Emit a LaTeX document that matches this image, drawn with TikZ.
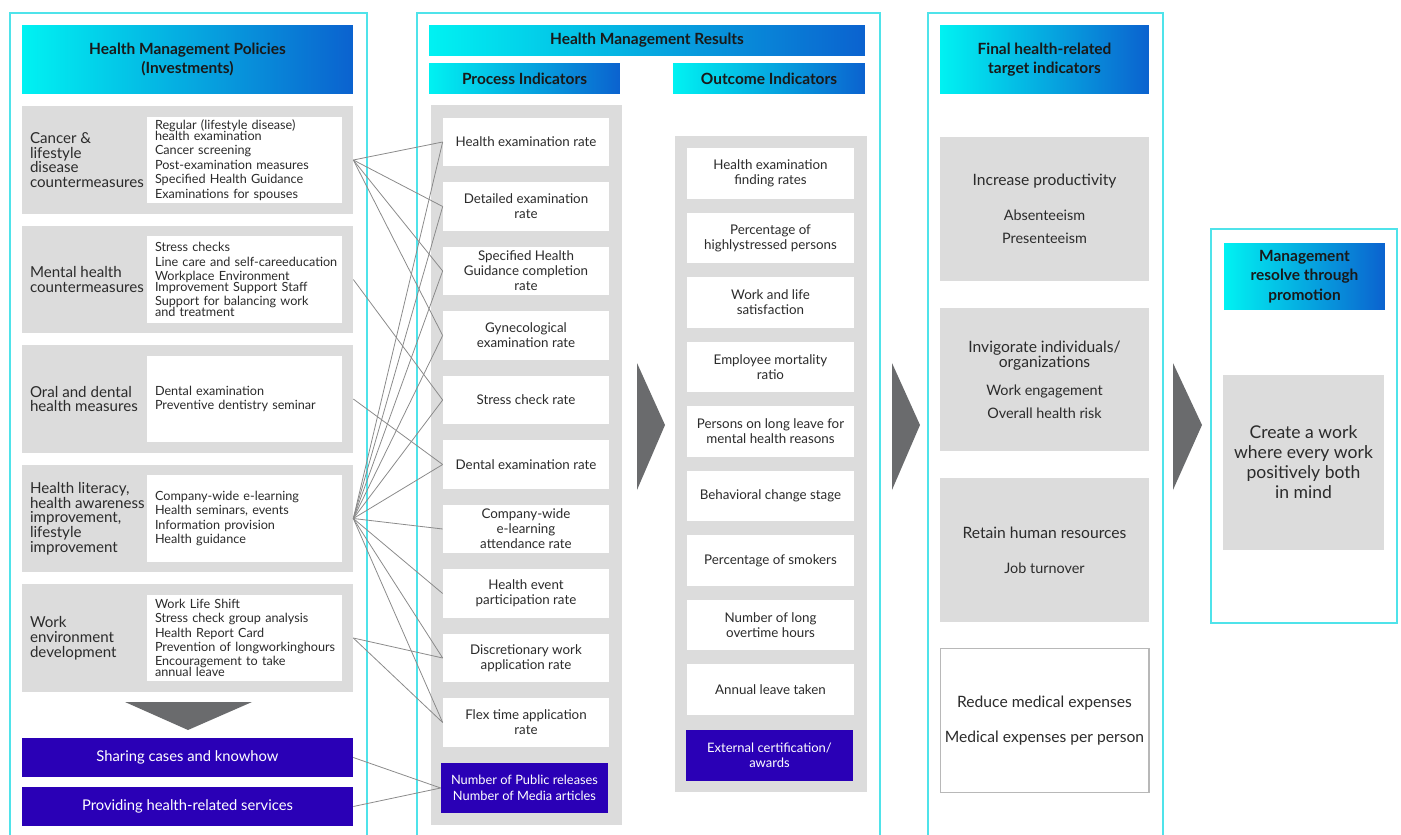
\documentclass[tikz,border=0pt]{standalone}
\usepackage{fontspec}
\setmainfont{Lato}
\usepackage{tikz}
\usetikzlibrary{positioning}

\definecolor{frcyan}{HTML}{4FE3EA}
\definecolor{hdrcyan}{HTML}{00F2F2}
\definecolor{hdrblue}{HTML}{0B62CF}
\definecolor{bandgray}{HTML}{DCDCDC}
\definecolor{deepblue}{HTML}{2A00B6}
\definecolor{chevgray}{HTML}{6A6B6D}
\definecolor{linkgray}{HTML}{8A8A8A}
\definecolor{txt}{HTML}{2B2B2B}

\newcommand{\subf}{\fontsize{8.2}{13}\selectfont}

\begin{document}
\begin{tikzpicture}[x=0.02cm, y=-0.02cm,
        colframe/.style={draw=frcyan, line width=0.9pt},
        hdr/.style={
            left color=hdrcyan,
            right color=hdrblue,
            align=center,
            inner sep=0pt,
            text=black!90,
            font=\fontsize{8.8}{11.2}\selectfont\bfseries
        },
        band/.style={fill=bandgray, minimum width=6.62cm, minimum height=2.16cm, inner sep=0pt},
        ttl/.style={align=left, inner sep=0pt, text=txt, font=\fontsize{8.6}{8.4}\selectfont},
        bullets/.style={
            fill=white,
            minimum width=3.9cm,
            minimum height=1.74cm,
            text width=3.58cm,
            align=left,
            inner xsep=0.16cm,
            inner ysep=0pt,
            text=txt,
            font=\fontsize{7.2}{8.2}\selectfont
        },
        colband/.style={fill=bandgray, inner sep=0pt},
        ind/.style={fill=white, minimum width=3.32cm, minimum height=0.98cm, align=center, inner sep=0pt, text=txt, font=\fontsize{7.6}{8.6}\selectfont},
        deep/.style={fill=deepblue, text=white, align=center, inner sep=0pt},
        finbox/.style={fill=bandgray, minimum width=4.18cm, minimum height=2.88cm, align=center, inner sep=0pt, text=txt, font=\fontsize{8.9}{13}\selectfont},
        link/.style={draw=linkgray, line width=0.45pt}
    ]
        \useasboundingbox (0,0) rectangle (1401,835);

        % column frames
        \draw[colframe] (10,835) |- (367,13) -- (367,835);
        \draw[colframe] (417,835) |- (880,13) -- (880,835);
        \draw[colframe] (928,835) |- (1163,13) -- (1163,835);
        \draw[colframe] (1211,229) rectangle (1397,623);

        % headers
        \node[hdr, minimum width=6.62cm, minimum height=1.38cm] (polhdr) at (187.5,59.5) {Health Management Policies\\(Investments)};
        \node[hdr, minimum width=8.72cm, minimum height=0.62cm] (reshdr) at (647,40.5) {Health Management Results};
        \node[hdr, minimum width=3.82cm, minimum height=0.62cm] (prochdr) at (524.5,78.5) {Process Indicators};
        \node[hdr, minimum width=3.84cm, minimum height=0.62cm] (outhdr) at (769,78.5) {Outcome Indicators};
        \node[hdr, minimum width=4.18cm, minimum height=1.38cm] (finhdr) at (1044.5,59.5) {Final health-related\\target indicators};
        \node[hdr, minimum width=3.22cm, minimum height=1.34cm] (mgthdr) at (1304.5,276.5) {Management\\resolve through\\promotion};

        % policies
        \node[band] (cancer)   at (187.5,160) {};
        \node[band] (mental)   at (187.5,279.5) {};
        \node[band] (oral)     at (187.5,399) {};
        \node[band] (literacy) at (187.5,518.5) {};
        \node[band] (workenv)  at (187.5,638) {};

        \node[ttl, right=0.16cm of cancer.west]   (cancerttl)   {Cancer \&\\lifestyle\\disease\\countermeasures};
        \node[ttl, right=0.16cm of mental.west]   (mentalttl)   {Mental health\\countermeasures};
        \node[ttl, right=0.16cm of oral.west]     (oralttl)     {Oral and dental\\health measures};
        \node[ttl, right=0.16cm of literacy.west] (literacyttl) {Health literacy,\\health awareness\\improvement,\\lifestyle\\improvement};
        \node[ttl, right=0.16cm of workenv.west]  (workenvttl)  {Work\\environment\\development};

        \node[bullets, left=0.22cm of cancer.east]   (cancerlist)   {Regular (lifestyle disease)\\[-2pt]health examination\\Cancer screening\\Post-examination measures\\Specified Health Guidance\\Examinations for spouses};
        \node[bullets, left=0.22cm of mental.east]   (mentallist)   {Stress checks\\\mbox{Line care and self-careeducation}\\Workplace Environment\\[-2pt]Improvement Support Staff\\Support for balancing work\\[-2pt]and treatment};
        \node[bullets, left=0.22cm of oral.east]     (orallist)     {Dental examination\\Preventive dentistry seminar};
        \node[bullets, left=0.22cm of literacy.east] (literacylist) {Company-wide e-learning\\Health seminars, events\\Information provision\\Health guidance};
        \node[bullets, left=0.22cm of workenv.east]  (workenvlist)  {Work Life Shift\\Stress check group analysis\\Health Report Card\\\mbox{Prevention of longworkinghours}\\Encouragement to take\\[-2pt]annual leave};

        \fill[chevgray] (125,702) -- (252,702) -- (188,730) -- cycle;

        \node[deep, minimum width=6.62cm, minimum height=0.78cm, font=\fontsize{8.4}{10}\selectfont] (sharing)  at (187.5,757.5) {Sharing cases and knowhow};
        \node[deep, minimum width=6.62cm, minimum height=0.78cm, font=\fontsize{8.4}{10}\selectfont] (services) at (187.5,806.5) {Providing health-related services};

        % process indicators
        \node[colband, minimum width=3.82cm, minimum height=14.4cm] (procband) at (526.5,465) {};
        \node[ind] (pexam)    at (526,142)   {Health examination rate};
        \node[ind] (pdetail)  at (526,206.5) {Detailed examination\\rate};
        \node[ind] (pguide)   at (526,271)   {Specified Health\\Guidance completion\\rate};
        \node[ind] (pgyn)     at (526,335.5) {Gynecological\\examination rate};
        \node[ind] (pstress)  at (526,400)   {Stress check rate};
        \node[ind] (pdental)  at (526,464.5) {Dental examination rate};
        \node[ind] (pelearn)  at (526,529)   {Company-wide\\e-learning\\attendance rate};
        \node[ind] (pevent)   at (526,593.5) {Health event\\participation rate};
        \node[ind] (pdiscr)   at (526,658)   {Discretionary work\\application rate};
        \node[ind] (pflex)    at (526,722.5) {Flex time application\\rate};
        \node[deep, minimum width=3.34cm, minimum height=1.0cm, font=\fontsize{7.3}{9.4}\selectfont] (ppublic) at (524.5,788) {Number of Public releases\\Number of Media articles};

        % outcome indicators
        \node[colband, minimum width=3.84cm, minimum height=13.12cm] (outband) at (771,464) {};
        \node[ind, minimum width=3.34cm, minimum height=1.02cm] (ofind)    at (770.5,173.5) {Health examination\\finding rates};
        \node[ind, minimum width=3.34cm, minimum height=1.02cm] (ohigh)    at (770.5,238)   {Percentage of\\highlystressed persons};
        \node[ind, minimum width=3.34cm, minimum height=1.02cm] (osatis)   at (770.5,302.5) {Work and life\\satisfaction};
        \node[ind, minimum width=3.34cm, minimum height=1.02cm] (omort)    at (770.5,367)   {Employee mortality\\ratio};
        \node[ind, minimum width=3.34cm, minimum height=1.02cm] (oleave)   at (770.5,431.5) {Persons on long leave for\\mental health reasons};
        \node[ind, minimum width=3.34cm, minimum height=1.02cm] (ostage)   at (770.5,496)   {Behavioral change stage};
        \node[ind, minimum width=3.34cm, minimum height=1.02cm] (osmoke)   at (770.5,560.5) {Percentage of smokers};
        \node[ind, minimum width=3.34cm, minimum height=1.02cm] (oovert)   at (770.5,625)   {Number of long\\overtime hours};
        \node[ind, minimum width=3.34cm, minimum height=1.02cm] (oannual)  at (770.5,689.5) {Annual leave taken};
        \node[deep, minimum width=3.34cm, minimum height=1.02cm, font=\fontsize{7.4}{8.6}\selectfont] (oaward) at (769.5,755.5) {External certification/\\awards};

        % chevrons
        \fill[chevgray] (637,363) -- (665,425) -- (637,490) -- cycle;
        \fill[chevgray] (892,363) -- (920,425) -- (892,490) -- cycle;
        \fill[chevgray] (1173,363) -- (1202,425) -- (1173,490) -- cycle;

        % final targets
        \node[finbox] (prod)   at (1044.5,209)   {Increase productivity\\[6.8pt]{\subf Absenteeism}\\{\subf Presenteeism}};
        \node[finbox] (invig)  at (1044.5,379.5) {Invigorate individuals/\\[-4.5pt]organizations\\[2.9pt]{\subf Work engagement}\\{\subf Overall health risk}};
        \node[finbox] (retain) at (1044.5,550)   {Retain human resources\\[6.8pt]{\subf Job turnover}};
        \node[finbox, fill=white, draw=black!28, line width=0.6pt] (reduce) at (1044.5,720.5) {Reduce medical expenses\\[6.8pt]Medical expenses per person};

        % management resolve
        \node[finbox, minimum width=3.22cm, minimum height=3.5cm, font=\fontsize{10}{11.4}\selectfont] (resolve) at (1303.5,462.5) {Create a work\\where every work\\positively both\\in mind};

        % links
        \draw[link] (cancer.east) -- (pexam.west);
        \draw[link] (cancer.east) -- (pdetail.west);
        \draw[link] (cancer.east) -- (pguide.west);
        \draw[link] (cancer.east) -- (pgyn.west);
        \draw[link] (mental.east) -- (pstress.west);
        \draw[link] (oral.east) -- (pdental.west);
        \draw[link] (literacy.east) -- (pexam.west);
        \draw[link] (literacy.east) -- (pdetail.west);
        \draw[link] (literacy.east) -- (pguide.west);
        \draw[link] (literacy.east) -- (pgyn.west);
        \draw[link] (literacy.east) -- (pstress.west);
        \draw[link] (literacy.east) -- (pdental.west);
        \draw[link] (literacy.east) -- (pelearn.west);
        \draw[link] (literacy.east) -- (pevent.west);
        \draw[link] (literacy.east) -- (pdiscr.west);
        \draw[link] (literacy.east) -- (pflex.west);
        \draw[link] (workenv.east) -- (pdiscr.west);
        \draw[link] (workenv.east) -- (pflex.west);
        \draw[link] (sharing.east) -- (ppublic.west);
        \draw[link] (services.east) -- (ppublic.west);
    \end{tikzpicture}
\end{document}
